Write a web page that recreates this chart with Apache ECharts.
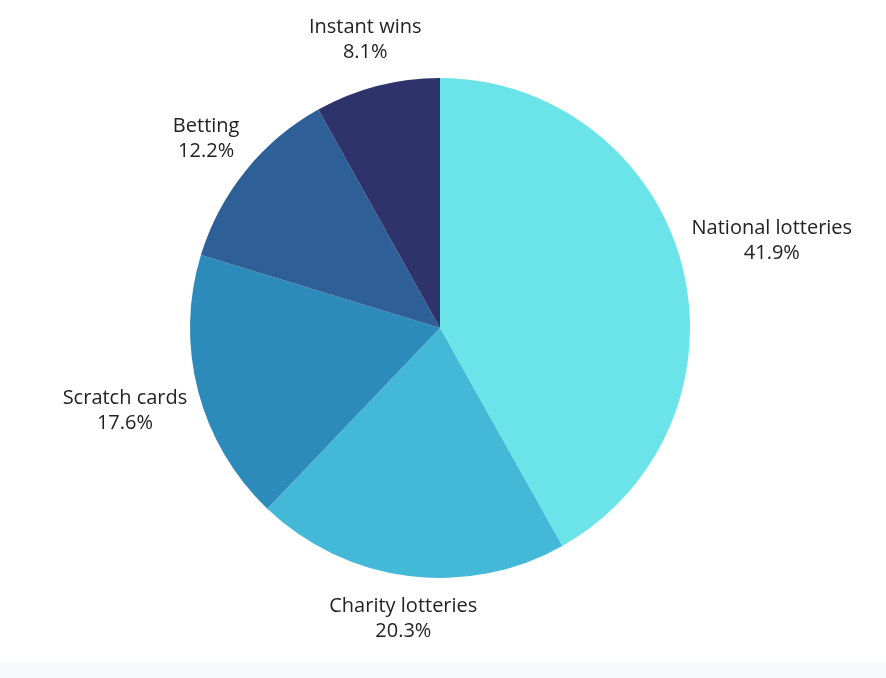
<!DOCTYPE html>
<html>
<head>
<meta charset="utf-8">
<script src="https://cdn.jsdelivr.net/npm/echarts@6/dist/echarts.min.js"></script>
<style>
  html, body { margin: 0; padding: 0; background: #ffffff; }
  #main { width: 886px; height: 678px; }
</style>
</head>
<body>
<div id="main"></div>
<script>
var dom = document.getElementById("main");
var myChart = echarts.init(dom);

// data
var categories = ['National lotteries', 'Charity lotteries', 'Scratch cards', 'Betting', 'Instant wins'];
var values = [41.9, 20.3, 17.6, 12.2, 8.1];
var colors = ['#6ae4e8', '#43b9d7', '#2c8bba', '#2e5f96', '#2f336b'];

var cx = 440, cy = 328, r = 250;
var fontSize = 20, lineH = 25;
var total = values.reduce(function (a, b) { return a + b; }, 0);

var seriesData = [];
categories.forEach(function (name, i) {
    seriesData.push({ name: name, value: values[i], itemStyle: { color: colors[i] } });
});

// mid angle of each slice, clockwise from 12 o'clock
function midAngle(idx) {
    var before = 0;
    for (var i = 0; i < idx; i++) before += values[i];
    return (before + values[idx] / 2) / total * Math.PI * 2;
}

// width of the widest label line
var ctx = document.createElement('canvas').getContext('2d');
ctx.font = fontSize + 'px "Open Sans"';
function labelWidth(idx) {
    return Math.max(ctx.measureText(categories[idx]).width,
                    ctx.measureText(values[idx].toFixed(1) + '%').width);
}

var option = {
    backgroundColor: '#ffffff',
    animation: false,
    graphic: [{
        type: 'rect',
        left: 0,
        bottom: 0,
        shape: { width: 886, height: 16 },
        style: { fill: '#f8f9fd' },
        z: -10
    }],
    series: [{
        type: 'pie',
        center: [cx, cy],
        radius: [0, r],
        startAngle: 90,
        clockwise: true,
        data: seriesData,
        itemStyle: { borderWidth: 0 },
        emphasis: { disabled: true },
        label: {
            show: true,
            position: 'outside',
            formatter: function (p) { return p.name + '\n' + p.value.toFixed(1) + '%'; },
            fontFamily: 'Open Sans',
            fontSize: fontSize,
            lineHeight: lineH,
            color: '#222222',
            align: 'center',
            overflow: 'none'
        },
        labelLine: { show: false },
        labelLayout: function (params) {
            var a = midAngle(params.dataIndex);
            var s = Math.sin(a), c = Math.cos(a);
            var w = labelWidth(params.dataIndex), h = lineH * 2;
            var d = r + 9 + Math.abs(s) * w / 2 + Math.abs(c) * h / 2;
            return {
                x: cx + d * s,
                y: cy - d * c,
                align: 'center',
                verticalAlign: 'middle'
            };
        }
    }]
};
myChart.setOption(option, true);
window.addEventListener("resize", function () {
    myChart.resize();
});
</script>
</body>
</html>
